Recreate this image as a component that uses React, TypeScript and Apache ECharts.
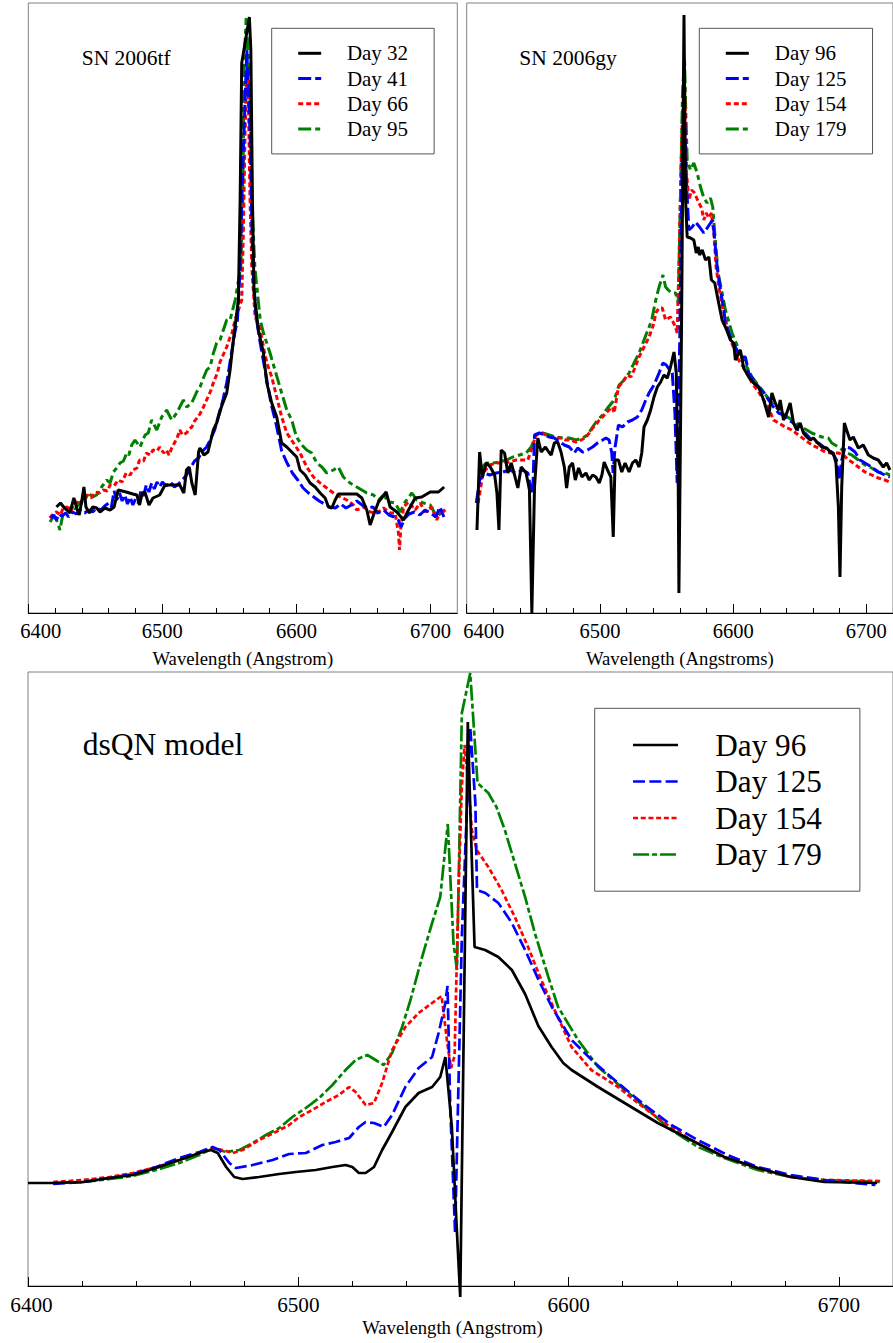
import React, { useEffect, useRef } from 'react';
import * as echarts from 'echarts';

const FONT = 'Liberation Serif';

// x-axis tick values (Angstrom)
const firstTick = [6400];
const majorTicks = [6400, 6500, 6600, 6700];
const labelTicks = [6500, 6600, 6700];
const minorTicks = [6420, 6440, 6460, 6480, 6520, 6540, 6560, 6580, 6620, 6640, 6660, 6680];

// ---------- SN 2006tf ----------
const tfDay32 = [[6421,1.06],[6424,1.10],[6427,1.05],[6431,1.00],[6434,1.15],[6437,1.01],[6438,0.98],[6440,1.13],[6441.5,1.26],[6443,1.06],[6445.5,1.00],[6448,1.06],[6451,1.05],[6453.5,1.01],[6457,1.05],[6461,1.03],[6464,1.06],[6467,1.23],[6473,1.21],[6478,1.19],[6481,1.18],[6483,1.08],[6485,1.20],[6487,1.21],[6490,1.08],[6493,1.15],[6498,1.18],[6502,1.28],[6508,1.28],[6513,1.28],[6516,1.20],[6518,1.43],[6520,1.46],[6522,1.30],[6524.5,1.18],[6527,1.61],[6528,1.65],[6531,1.58],[6534,1.61],[6538,1.83],[6540.5,1.90],[6544,2.06],[6548,2.20],[6550.5,2.43],[6553,2.73],[6556.7,3.13],[6558,4.13],[6559.2,5.50],[6564.9,5.96],[6566,5.63],[6567.2,4.13],[6568.4,3.20],[6571.6,2.83],[6575.4,2.60],[6577.9,2.30],[6581.6,2.10],[6585.3,1.96],[6589,1.70],[6592.8,1.66],[6596.5,1.61],[6600.2,1.56],[6602.7,1.43],[6606.5,1.38],[6610.2,1.30],[6614,1.26],[6617.7,1.20],[6621.4,1.15],[6623.9,1.06],[6626.4,1.05],[6628.9,1.13],[6631.3,1.19],[6637.6,1.19],[6645,1.19],[6648.8,1.15],[6652.5,1.03],[6655,0.88],[6657.5,0.98],[6661.2,1.11],[6666.9,1.21],[6669.9,1.06],[6674.9,1.01],[6679.9,0.93],[6683.6,1.03],[6688.6,1.15],[6693.5,1.16],[6699.8,1.21],[6706,1.21],[6710.2,1.26]];
const tfDay41 = [[6417,0.95],[6419,0.98],[6421,0.93],[6423,0.99],[6425,0.97],[6428,1.00],[6430,0.96],[6433,1.01],[6436,0.99],[6439,1.03],[6442,1.00],[6445,1.03],[6448,1.01],[6451,1.05],[6454,1.03],[6457,1.07],[6460,1.10],[6462,1.06],[6464,1.22],[6466,1.13],[6468,1.20],[6470,1.12],[6472,1.18],[6474,1.09],[6476,1.16],[6478,1.08],[6480,1.14],[6482,1.10],[6484,1.22],[6486,1.17],[6488,1.28],[6490,1.21],[6492,1.30],[6494,1.24],[6496,1.31],[6498,1.26],[6500,1.31],[6503,1.27],[6506,1.31],[6509,1.26],[6512,1.29],[6515,1.33],[6518,1.38],[6521,1.45],[6524,1.52],[6527,1.55],[6530,1.62],[6533,1.66],[6536,1.74],[6539,1.83],[6542,1.98],[6545,2.12],[6548,2.30],[6551,2.55],[6554,2.80],[6556,2.93],[6558,3.46],[6560,4.46],[6563,5.63],[6565.4,4.80],[6567.4,3.46],[6570,2.96],[6573,2.70],[6577,2.40],[6581,2.10],[6585,1.88],[6589,1.62],[6593,1.50],[6597,1.40],[6601,1.33],[6605,1.25],[6609,1.20],[6613,1.16],[6617,1.12],[6621,1.09],[6625,1.06],[6629,1.05],[6633,1.09],[6637,1.05],[6641,1.08],[6645,1.12],[6649,1.08],[6653,1.05],[6657,1.06],[6661,1.00],[6665,1.03],[6669,0.98],[6673,0.96],[6676,0.93],[6678,0.86],[6681,0.95],[6684,0.99],[6688,1.01],[6692,0.98],[6696,1.03],[6700,1.00],[6704,0.96],[6707,1.06],[6710,0.96]];
const tfDay66 = [[6416,0.95],[6419,1.00],[6421,1.01],[6424,0.98],[6426,1.05],[6429,1.06],[6432,1.02],[6434,1.10],[6436,1.11],[6439,1.09],[6441,1.16],[6444,1.18],[6447,1.15],[6450,1.21],[6453,1.20],[6456,1.23],[6459,1.22],[6461,1.28],[6464,1.27],[6467,1.33],[6470,1.31],[6473,1.40],[6476,1.38],[6478,1.43],[6481,1.45],[6483,1.53],[6486,1.52],[6488,1.60],[6491,1.58],[6493,1.63],[6496,1.62],[6498,1.66],[6501,1.60],[6503,1.63],[6505,1.58],[6507,1.65],[6509,1.70],[6511,1.75],[6513,1.83],[6515,1.78],[6518,1.80],[6520,1.84],[6522,1.86],[6524,1.92],[6526,1.95],[6528,1.99],[6530,2.04],[6533,2.13],[6536,2.22],[6538,2.30],[6541,2.40],[6543,2.51],[6546,2.60],[6548,2.66],[6550,2.74],[6552,2.80],[6554.2,2.93],[6559.2,3.13],[6560.4,3.80],[6561.7,4.80],[6563,5.46],[6564.2,5.13],[6565.4,4.13],[6566.7,3.46],[6569.2,2.96],[6573,2.83],[6576,2.62],[6578,2.50],[6581.6,2.36],[6585.3,2.16],[6589,1.96],[6592.8,1.80],[6597.8,1.70],[6602.7,1.60],[6607.7,1.46],[6612.7,1.36],[6617.7,1.30],[6622.6,1.25],[6627.6,1.20],[6632.6,1.16],[6637.6,1.13],[6642.5,1.08],[6645,1.03],[6650,1.06],[6655,1.01],[6660,1.00],[6665,1.05],[6670,1.00],[6673.6,1.00],[6676.1,0.80],[6676.9,0.63],[6677.9,0.86],[6680,1.06],[6683.6,1.11],[6688.6,1.03],[6692.3,1.10],[6696,1.01],[6701,1.06],[6704.7,0.93],[6708.5,1.05],[6711,1.01]];
const tfDay95 = [[6416.2,0.91],[6418,0.95],[6420,0.96],[6422,0.90],[6423.6,0.83],[6426,1.00],[6429,1.03],[6432.3,1.06],[6435,1.04],[6438.6,1.11],[6441,1.10],[6444.8,1.20],[6448,1.16],[6451,1.18],[6454.7,1.26],[6458.5,1.33],[6461,1.30],[6463.4,1.41],[6466,1.45],[6468.4,1.50],[6471,1.52],[6473.4,1.60],[6475,1.58],[6477.1,1.68],[6479.6,1.73],[6483.3,1.66],[6487.1,1.78],[6489.5,1.80],[6492,1.93],[6495.8,1.83],[6499.5,1.96],[6503.2,2.03],[6507,1.93],[6510.7,2.00],[6513,2.06],[6515.7,2.13],[6518.2,2.06],[6521.9,2.10],[6525.6,2.21],[6528.1,2.26],[6530.6,2.35],[6533.1,2.43],[6535.6,2.46],[6538.1,2.60],[6540.5,2.70],[6543,2.73],[6545.5,2.83],[6548,2.93],[6550.5,2.93],[6554.3,3.13],[6558.5,3.46],[6560,4.13],[6561,5.48],[6562.5,5.95],[6564,5.60],[6565.4,5.13],[6566.7,4.13],[6569,3.46],[6573,2.93],[6575.4,2.80],[6580.3,2.60],[6584,2.43],[6589,2.20],[6592.8,2.03],[6596.5,1.93],[6600,1.76],[6604,1.68],[6607.7,1.63],[6611.4,1.60],[6615.2,1.50],[6619,1.46],[6622.6,1.40],[6627.6,1.43],[6631.3,1.46],[6635,1.36],[6640,1.30],[6645,1.26],[6648.8,1.23],[6652.5,1.20],[6657.5,1.18],[6661.2,1.13],[6665,1.18],[6668.7,1.11],[6673.6,1.10],[6677.4,1.01],[6681.1,1.11],[6686.1,1.20],[6689.8,1.13],[6694.8,1.10],[6699.8,1.08],[6704.7,0.96],[6708.5,1.01],[6711,1.03]];

// ---------- SN 2006gy ----------
const gyDay96 = [[6407.7,0.83],[6409.7,1.61],[6411.7,1.36],[6414.7,1.50],[6417.7,1.46],[6421,1.38],[6422.7,1.20],[6424.2,0.83],[6425.9,1.63],[6428.4,1.60],[6430.9,1.40],[6433.4,1.50],[6435.9,1.38],[6438.4,1.25],[6440.9,1.46],[6444.6,1.40],[6447.1,1.23],[6448.9,0.0],[6450.9,1.26],[6453.4,1.75],[6455.9,1.61],[6459.1,1.66],[6461.6,1.61],[6463.4,1.58],[6465.8,1.70],[6468.3,1.71],[6470.8,1.61],[6473.3,1.46],[6475,1.25],[6477,1.46],[6479.5,1.50],[6481.5,1.33],[6484,1.45],[6486.5,1.36],[6489.5,1.40],[6492,1.33],[6494.5,1.38],[6497,1.36],[6499.5,1.30],[6501.5,1.38],[6503.2,1.51],[6505.7,1.43],[6508.2,1.36],[6510,0.76],[6511.4,1.53],[6513.9,1.53],[6516.4,1.41],[6518.9,1.50],[6521.9,1.41],[6524.4,1.50],[6526.9,1.53],[6529.4,1.46],[6531.4,1.60],[6533.1,1.86],[6535.6,1.93],[6538.1,2.03],[6540.6,2.16],[6543.1,2.26],[6545.6,2.31],[6548,2.38],[6550.6,2.35],[6553,2.46],[6555.6,2.61],[6557.3,2.40],[6558.8,1.26],[6559.3,0.20],[6561.3,2.93],[6563.1,5.98],[6564.3,4.13],[6565.5,3.76],[6568,3.75],[6570.5,3.73],[6572.3,3.60],[6573.8,3.66],[6574.8,3.58],[6576.8,3.63],[6579.3,3.53],[6581.8,3.56],[6583.7,3.33],[6586.2,3.30],[6588.7,3.13],[6591.7,2.93],[6594.2,2.86],[6598,2.73],[6600.4,2.70],[6601.7,2.53],[6605.4,2.63],[6607.9,2.45],[6611.7,2.36],[6615.4,2.30],[6619.1,2.26],[6622.9,2.13],[6626.6,1.96],[6629.1,2.20],[6631.6,2.10],[6634.1,2.03],[6635.3,2.13],[6637.8,1.93],[6640.3,2.00],[6642.8,2.10],[6645.3,1.90],[6647.8,1.83],[6650.3,1.90],[6652.8,1.80],[6655.3,1.76],[6657.8,1.73],[6660.3,1.75],[6662.8,1.71],[6666.5,1.66],[6670.3,1.65],[6673.5,1.60],[6675.2,1.60],[6677.2,1.50],[6679,1.06],[6680.2,0.36],[6681.5,1.26],[6683.5,1.90],[6685.2,1.83],[6687.7,1.73],[6690.2,1.76],[6694,1.65],[6697.7,1.68],[6701.5,1.58],[6705.2,1.55],[6708.9,1.53],[6712.7,1.46],[6715.2,1.50],[6717.7,1.43]];
const gyDay125 = [[6407.2,1.10],[6409.7,1.33],[6413.5,1.40],[6417.2,1.38],[6422.2,1.40],[6427.2,1.41],[6432.2,1.43],[6437.1,1.40],[6442.1,1.43],[6445.9,1.40],[6447.9,1.26],[6449.6,1.20],[6450.9,1.78],[6454.6,1.80],[6458.3,1.78],[6462.1,1.76],[6465.8,1.75],[6469.6,1.71],[6473.3,1.68],[6477,1.66],[6480.8,1.60],[6483.3,1.65],[6487,1.61],[6490.7,1.63],[6494.5,1.66],[6498.2,1.70],[6502,1.73],[6504.5,1.75],[6506.9,1.73],[6508.9,1.60],[6509.9,1.40],[6511.4,1.66],[6513.9,1.88],[6516.9,1.86],[6520.7,1.91],[6524.4,1.93],[6528.1,1.96],[6531.4,2.03],[6534.4,2.13],[6536.9,2.20],[6540.6,2.28],[6544.4,2.40],[6547.3,2.50],[6549.8,2.48],[6552.3,2.43],[6554.3,2.40],[6556.3,2.00],[6558,1.30],[6560,2.80],[6561.5,4.40],[6563.3,5.10],[6564.5,4.50],[6565.5,4.16],[6566.8,3.83],[6569.3,3.86],[6571.8,3.91],[6574.8,3.86],[6578,3.80],[6580.5,3.85],[6583,3.90],[6584.7,3.93],[6586.2,3.73],[6588,3.46],[6590.5,3.23],[6593,3.03],[6594.2,2.90],[6598,2.76],[6601.7,2.66],[6605.4,2.56],[6609.2,2.56],[6611.7,2.40],[6615.4,2.33],[6619.1,2.26],[6622.9,2.21],[6626.6,2.13],[6630.3,2.06],[6634.1,2.00],[6637.8,1.98],[6641.6,1.93],[6645.3,1.90],[6649,1.83],[6654,1.80],[6659,1.73],[6664,1.70],[6669,1.65],[6674,1.61],[6677.7,1.53],[6679.5,1.33],[6681.5,1.53],[6684,1.66],[6687.7,1.65],[6691.5,1.61],[6695.2,1.53],[6699,1.50],[6704,1.46],[6708.9,1.41],[6713.9,1.38],[6717.6,1.36]];
const gyDay154 = [[6408.5,1.10],[6410.2,1.23],[6412.2,1.40],[6417.2,1.48],[6422.2,1.50],[6427.2,1.50],[6432.2,1.51],[6437.1,1.53],[6442.1,1.53],[6445.9,1.53],[6448.4,1.63],[6452.1,1.78],[6455.8,1.80],[6459.6,1.78],[6463.3,1.76],[6467.1,1.75],[6470.8,1.75],[6474.5,1.73],[6478.3,1.73],[6482,1.71],[6485.8,1.73],[6489,1.75],[6492,1.80],[6494.5,1.85],[6497,1.88],[6499.5,1.93],[6502,1.96],[6504.5,2.00],[6507,2.03],[6509.5,2.06],[6510.7,2.00],[6511.9,2.10],[6513.9,2.26],[6516.9,2.31],[6520.7,2.38],[6523.2,2.36],[6525.6,2.43],[6529.4,2.56],[6533.1,2.66],[6536.9,2.76],[6540.6,2.90],[6541.9,3.00],[6544.4,3.05],[6546.8,3.05],[6549.3,2.93],[6553,2.96],[6556.8,2.86],[6558,2.80],[6559.5,3.60],[6561.5,4.80],[6563.3,5.35],[6564.3,4.90],[6565,4.40],[6566.8,4.13],[6568.8,4.23],[6570.5,4.21],[6572.3,4.16],[6574.3,4.10],[6576.3,4.05],[6578,3.93],[6579.8,4.00],[6581.8,3.95],[6583.7,4.00],[6585.5,3.80],[6587.2,3.46],[6589.7,3.23],[6593,3.00],[6598,2.73],[6604.1,2.53],[6609.2,2.43],[6614.2,2.30],[6619.1,2.21],[6622.9,2.13],[6626.6,2.05],[6630.3,1.93],[6634.1,1.90],[6639,1.86],[6644,1.83],[6649,1.78],[6654,1.73],[6659,1.68],[6664,1.65],[6669,1.61],[6674,1.60],[6679,1.60],[6682.8,1.58],[6686.5,1.53],[6690.2,1.50],[6694,1.46],[6699,1.41],[6704,1.38],[6708.9,1.35],[6713.9,1.33],[6717.6,1.31]];
const gyDay179 = [[6409.2,1.43],[6414.7,1.50],[6419.7,1.50],[6424.7,1.51],[6429.7,1.53],[6434.7,1.56],[6439.6,1.58],[6444.6,1.60],[6448.4,1.66],[6452.1,1.78],[6457.1,1.80],[6462.1,1.78],[6467.1,1.76],[6472,1.75],[6477,1.75],[6482,1.73],[6487,1.75],[6490.7,1.78],[6494.5,1.86],[6498.2,1.93],[6502,1.98],[6505.7,2.05],[6509.5,2.11],[6511.4,2.16],[6514.4,2.28],[6518.2,2.33],[6521.9,2.40],[6525.6,2.50],[6529.4,2.60],[6533.1,2.73],[6536.9,2.86],[6538.9,2.93],[6541.9,3.13],[6544.4,3.26],[6547.3,3.38],[6549.3,3.26],[6551.3,3.23],[6553.8,3.20],[6556.8,3.20],[6558.8,3.10],[6560.5,4.20],[6562,5.20],[6563.5,5.55],[6564.5,5.00],[6565.5,4.53],[6568,4.43],[6570.5,4.50],[6573,4.40],[6575.5,4.26],[6578,4.15],[6580.5,4.10],[6583,4.15],[6584.7,4.06],[6586.2,3.80],[6588.7,3.40],[6591.7,3.20],[6594.2,3.03],[6599.2,2.80],[6606.6,2.56],[6614.1,2.36],[6621.6,2.23],[6629.1,2.10],[6636.6,2.00],[6644.1,1.93],[6651.5,1.86],[6659,1.80],[6666.5,1.76],[6671.5,1.75],[6674,1.70],[6679,1.66],[6684,1.61],[6689,1.58],[6694,1.53],[6699,1.48],[6704,1.45],[6708.9,1.41],[6713.9,1.40],[6717.6,1.38]];

// ---------- dsQN model ----------
const qnDay96 = [[6400,1.03],[6409.3,1.03],[6420.4,1.04],[6430.2,1.08],[6438.8,1.11],[6447.4,1.18],[6456,1.26],[6463.4,1.33],[6467.7,1.36],[6470.2,1.33],[6473.3,1.19],[6476.3,1.09],[6479.4,1.07],[6485.5,1.09],[6492.9,1.12],[6499.1,1.14],[6506.4,1.16],[6512.6,1.19],[6517.5,1.21],[6520,1.19],[6522.4,1.13],[6524.9,1.13],[6528,1.19],[6531,1.36],[6534.7,1.54],[6539.6,1.79],[6544.5,1.93],[6549.5,1.99],[6552.5,2.09],[6554.4,2.29],[6556.8,1.59],[6558.7,0.53],[6559.9,-0.11],[6562.7,5.64],[6563.8,4.60],[6565.2,3.39],[6569.1,3.36],[6574,3.29],[6579,3.16],[6583.9,2.92],[6588.8,2.60],[6593.7,2.39],[6598,2.23],[6601.1,2.16],[6610.9,1.99],[6620.7,1.83],[6633,1.63],[6645.3,1.46],[6657.6,1.29],[6669.9,1.18],[6682.2,1.09],[6694.5,1.04],[6714.1,1.03]];
const qnDay125 = [[6409.3,1.02],[6420.4,1.04],[6430.2,1.08],[6438.8,1.12],[6447.4,1.19],[6456,1.28],[6463.4,1.34],[6468.3,1.39],[6470.8,1.36],[6474.5,1.23],[6476.9,1.18],[6483.1,1.21],[6490.5,1.26],[6496.6,1.32],[6502.8,1.33],[6508.9,1.41],[6513.8,1.44],[6518.8,1.48],[6522.4,1.59],[6524.9,1.64],[6528,1.63],[6531.6,1.59],[6534.7,1.71],[6539.6,1.99],[6544.5,2.18],[6549.5,2.29],[6551.9,2.53],[6554.4,2.83],[6555.2,3.00],[6556.2,1.80],[6558,0.53],[6560.5,3.50],[6563.6,5.59],[6565.5,4.83],[6566.1,3.96],[6569.2,3.93],[6574,3.83],[6579,3.63],[6583.9,3.36],[6588.9,3.06],[6593.8,2.79],[6601.1,2.46],[6609.7,2.23],[6618.3,2.03],[6628.1,1.81],[6638,1.61],[6647.8,1.46],[6658.8,1.31],[6669.9,1.19],[6682.2,1.11],[6694.5,1.06],[6713.5,1.01]];
const qnDay154 = [[6409.3,1.04],[6420.4,1.06],[6430.2,1.09],[6438.8,1.13],[6447.4,1.19],[6456,1.26],[6463.4,1.33],[6468.3,1.38],[6472,1.36],[6475.7,1.33],[6479.4,1.36],[6485.5,1.46],[6491.7,1.54],[6496.6,1.61],[6500.3,1.69],[6505.2,1.76],[6510.1,1.84],[6515,1.91],[6518.8,1.99],[6521.2,1.94],[6524.9,1.81],[6528,1.83],[6531,2.03],[6534.7,2.36],[6539.6,2.59],[6544.5,2.73],[6549.5,2.83],[6553,2.90],[6555,2.45],[6556.5,2.18],[6557.8,2.30],[6559.2,3.90],[6560.5,5.00],[6561.5,5.41],[6563,5.00],[6564.2,4.56],[6566,4.36],[6570.3,4.19],[6575.2,3.96],[6580.1,3.69],[6585,3.39],[6589.9,3.06],[6594.3,2.79],[6601.1,2.39],[6608.4,2.16],[6618.3,1.99],[6625.6,1.83],[6635.5,1.63],[6645.3,1.46],[6657.6,1.29],[6669.9,1.18],[6682.2,1.09],[6694.5,1.06],[6715.4,1.05]];
const qnDay179 = [[6409.3,1.03],[6420.4,1.04],[6430.2,1.07],[6438.8,1.10],[6447.4,1.16],[6456,1.23],[6463.4,1.31],[6468.3,1.38],[6473.3,1.34],[6478.2,1.36],[6483.1,1.43],[6488,1.51],[6493,1.58],[6497.8,1.69],[6502.8,1.78],[6507.7,1.88],[6512.6,2.01],[6517.5,2.16],[6521.2,2.26],[6525.5,2.31],[6528.6,2.26],[6531.6,2.21],[6534.7,2.33],[6538.4,2.59],[6541.5,2.86],[6545.8,3.29],[6549.5,3.63],[6552.5,3.89],[6555.3,4.62],[6557.4,3.43],[6558.7,3.16],[6560.5,5.73],[6563.6,6.13],[6566.3,5.03],[6570.3,4.93],[6573.3,4.79],[6576.4,4.56],[6580.1,4.23],[6583.9,3.89],[6587.5,3.53],[6592.5,3.09],[6596.1,2.79],[6603.5,2.46],[6610.9,2.19],[6619.5,1.99],[6628.1,1.79],[6638,1.56],[6647.8,1.39],[6657.6,1.28],[6669.9,1.16],[6682.2,1.09],[6694.5,1.06],[6715.4,1.04]];

const BLACK = '#000000';
const BLUE = '#0000ff';
const RED = '#ff0000';
const GREEN = '#008000';

function xAxes(gridIndex: number, name: string, o: any) {
  const base = { type: 'value', gridIndex, min: 6400, max: 6720, position: 'bottom', splitLine: { show: false } };
  const lab: any = { margin: o.margin, color: '#000', fontFamily: FONT, fontSize: o.labelSize, formatter: (v: number) => String(v) };
  return [
    {
      ...base, interval: 100,
      axisLine: { show: true, onZero: false, lineStyle: { color: '#000', width: 1 } },
      axisTick: { show: true, inside: true, length: 9, customValues: majorTicks, lineStyle: { color: '#000', width: 1 } },
      axisLabel: { ...lab, customValues: labelTicks },
      name, nameLocation: 'middle', nameGap: o.nameGap,
      nameTextStyle: { fontFamily: FONT, fontSize: 18.7, color: '#000', padding: o.namePad },
    },
    {
      ...base, interval: 20,
      axisLine: { show: false },
      axisTick: { show: true, inside: true, length: 5, customValues: minorTicks, lineStyle: { color: '#000', width: 1 } },
      axisLabel: { show: false },
    },
    {
      ...base, interval: 100,
      axisLine: { show: false },
      axisTick: { show: false },
      axisLabel: { ...lab, customValues: firstTick, padding: [0, 0, 0, o.firstPad] },
    },
  ];
}

function line(name: string, data: number[][], xi: number, yi: number, color: string, width: number, type: any, clip = true) {
  return {
    type: 'line', name, data, xAxisIndex: xi, yAxisIndex: yi, symbol: 'none', showSymbol: false,
    clip, lineStyle: { color, width, type }, itemStyle: { color }, emphasis: { disabled: true },
  };
}

function legend(names: string[], left: number, top: number, o: any) {
  return {
    data: names, orient: 'vertical', left, top, align: 'left', selectedMode: false,
    padding: o.padding, borderColor: '#555', borderWidth: 1, backgroundColor: '#fff',
    itemWidth: o.itemWidth, itemHeight: o.itemHeight, itemGap: o.itemGap,
    lineStyle: { width: o.lineWidth },
    itemStyle: { opacity: 0, borderWidth: 0 },
    formatter: (n: string) => n.replace(' (model)', ''),
    textStyle: { fontFamily: FONT, fontSize: o.fontSize, color: '#000', padding: [0, 0, 0, o.textPad] },
  };
}

const option: any = {
  animation: false,
  title: [
    { text: 'SN 2006tf', left: 81.7, top: 47, padding: 0, textStyle: { fontFamily: FONT, fontSize: 21.5, fontWeight: 'normal', color: '#000' } },
    { text: 'SN 2006gy', left: 519.3, top: 47, padding: 0, textStyle: { fontFamily: FONT, fontSize: 21.5, fontWeight: 'normal', color: '#000' } },
    { text: 'dsQN model', left: 82.7, top: 728.5, padding: 0, textStyle: { fontFamily: FONT, fontSize: 31.6, fontWeight: 'normal', color: '#000' } },
  ],
  grid: [
    { left: 28.3, top: 3, width: 429, height: 610, show: true, borderColor: '#808080', borderWidth: 1, backgroundColor: 'transparent', containLabel: false },
    { left: 466.7, top: 3, width: 427.8, height: 610, show: true, borderColor: '#808080', borderWidth: 1, backgroundColor: 'transparent', containLabel: false },
    { left: 28, top: 672, width: 867.8, height: 614, show: true, borderColor: '#808080', borderWidth: 1, backgroundColor: 'transparent', containLabel: false },
  ],
  xAxis: [
    ...xAxes(0, 'Wavelength (Angstrom)', { margin: 7.2, labelSize: 20.5, firstPad: 25, nameGap: 35.6, namePad: 0 }),
    ...xAxes(1, 'Wavelength (Angstroms)', { margin: 7.2, labelSize: 20.5, firstPad: 34, nameGap: 35.6, namePad: 0 }),
    ...xAxes(2, 'Wavelength (Angstrom)', { margin: 8, labelSize: 21.2, firstPad: 7, nameGap: 31.8, namePad: [0, 16, 0, 0] }),
  ],
  yAxis: [
    { type: 'value', gridIndex: 0, min: 0, max: 6.1, show: false },
    { type: 'value', gridIndex: 1, min: 0, max: 6.1, show: false },
    { type: 'value', gridIndex: 2, min: 0, max: 6.14, show: false },
  ],
  legend: [
    legend(['Day 32', 'Day 41', 'Day 66', 'Day 95'], 271.7, 28.3, { padding: [14.5, 26, 14.5, 25], itemWidth: 23, itemHeight: 21, itemGap: 4.2, lineWidth: 3, fontSize: 21, textPad: 20.7 }),
    legend(['Day 96', 'Day 125', 'Day 154', 'Day 179'], 699.3, 28.3, { padding: [14.5, 26, 14.5, 25], itemWidth: 23, itemHeight: 21, itemGap: 4.2, lineWidth: 3, fontSize: 21, textPad: 21 }),
    legend(['Day 96 (model)', 'Day 125 (model)', 'Day 154 (model)', 'Day 179 (model)'], 594.7, 708.3, { padding: [21.2, 38, 21.2, 37], itemWidth: 45, itemHeight: 31, itemGap: 5.5, lineWidth: 2.7, fontSize: 31.2, textPad: 32.3 }),
  ],
  series: [
    line('Day 95', tfDay95, 0, 0, GREEN, 3, [13, 4, 5, 4]),
    line('Day 66', tfDay66, 0, 0, RED, 3, [5, 3]),
    line('Day 41', tfDay41, 0, 0, BLUE, 3, [13, 4]),
    line('Day 32', tfDay32, 0, 0, BLACK, 3, 'solid'),

    line('Day 179', gyDay179, 3, 1, GREEN, 3, [13, 4, 5, 4]),
    line('Day 154', gyDay154, 3, 1, RED, 3, [5, 3]),
    line('Day 125', gyDay125, 3, 1, BLUE, 3, [13, 4]),
    line('Day 96', gyDay96, 3, 1, BLACK, 3, 'solid'),

    line('Day 179 (model)', qnDay179, 6, 2, GREEN, 2.7, [16, 3, 5, 3], false),
    line('Day 154 (model)', qnDay154, 6, 2, RED, 2.7, [5, 2.7], false),
    line('Day 125 (model)', qnDay125, 6, 2, BLUE, 2.7, [12, 4.3], false),
    line('Day 96 (model)', qnDay96, 6, 2, BLACK, 2.7, 'solid', false),
  ],
};

const CSS = `#root svg text, #root svg tspan { font-family: "Liberation Serif", serif !important; }`;

export default function App() {
  const ref = useRef<HTMLDivElement>(null);
  useEffect(() => {
    document.body.style.margin = '0';
    const chart = echarts.init(ref.current as HTMLDivElement, null, { renderer: 'svg' });
    chart.setOption(option);
    return () => chart.dispose();
  }, []);
  return (
    <>
      <style>{CSS}</style>
      <div ref={ref} style={{ width: 893, height: 1343 }} />
    </>
  );
}
